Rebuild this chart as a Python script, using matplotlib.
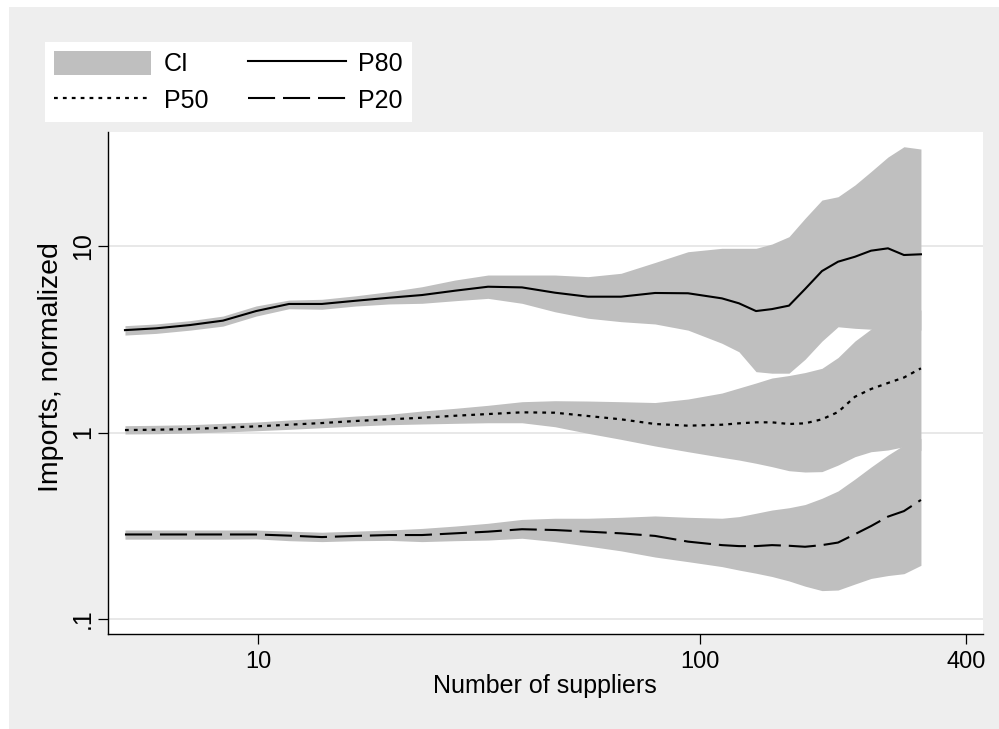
import matplotlib
matplotlib.use('Agg')
import matplotlib.pyplot as plt
from matplotlib.patches import Patch, Rectangle
from matplotlib.lines import Line2D
from matplotlib.ticker import FixedLocator, FixedFormatter, NullLocator

plt.rcParams['font.family'] = ['Liberation Sans', 'DejaVu Sans']

# number of suppliers (bin centres)
suppliers = [5.0, 5.88, 7.02, 8.33, 9.90, 11.75, 13.95, 16.66, 19.79, 23.50,
             27.91, 33.14, 39.56, 46.98, 55.79, 66.27, 79.11, 93.95, 112.1, 122.5,
             133.9, 145.5, 159.0, 172.9, 188.8, 205.3, 224.2, 243.8, 266.3, 289.4, 316.2]

# 80th percentile and its CI
p80_hi = [3.74, 3.82, 3.98, 4.21, 4.77, 5.13, 5.18, 5.41, 5.69, 6.05,
          6.57, 6.99, 6.99, 6.99, 6.85, 7.14, 8.16, 9.32, 9.72, 9.72,
          9.72, 10.25, 11.22, 14.08, 17.64, 18.38, 21.24, 25.08, 30.01, 34.07, 33.12]
p80 = [3.54, 3.62, 3.77, 3.98, 4.48, 4.89, 4.89, 5.09, 5.28, 5.46,
       5.76, 6.05, 6.00, 5.62, 5.35, 5.35, 5.60, 5.58, 5.24, 4.93,
       4.48, 4.59, 4.79, 5.88, 7.34, 8.24, 8.76, 9.44, 9.72, 8.95, 9.03]
p80_lo = [3.33, 3.40, 3.54, 3.72, 4.21, 4.61, 4.58, 4.77, 4.89, 4.93,
          5.09, 5.24, 4.93, 4.44, 4.10, 3.93, 3.82, 3.54, 3.01, 2.71,
          2.12, 2.08, 2.08, 2.47, 3.09, 3.69, 3.62, 3.58, 3.54, 3.54, 3.54]

# median
p50_hi = [1.088, 1.093, 1.101, 1.120, 1.138, 1.167, 1.191, 1.226, 1.252, 1.304,
          1.348, 1.399, 1.463, 1.481, 1.475, 1.463, 1.448, 1.512, 1.628, 1.732,
          1.843, 1.960, 2.021, 2.097, 2.209, 2.524, 3.094, 3.589, 4.01, 4.27, 4.54]
p50 = [1.031, 1.035, 1.044, 1.061, 1.079, 1.101, 1.124, 1.153, 1.177, 1.200,
       1.230, 1.256, 1.283, 1.277, 1.226, 1.177, 1.111, 1.088, 1.101, 1.120,
       1.134, 1.134, 1.111, 1.120, 1.177, 1.288, 1.555, 1.711, 1.843, 1.972, 2.209]
p50_lo = [0.982, 0.985, 0.994, 1.006, 1.022, 1.040, 1.061, 1.083, 1.101, 1.111,
          1.120, 1.128, 1.128, 1.074, 0.990, 0.919, 0.847, 0.789, 0.736, 0.712,
          0.684, 0.656, 0.624, 0.614, 0.617, 0.669, 0.742, 0.789, 0.806, 0.839, 0.80]

# 20th percentile
p20_hi = [.300, .300, .300, .300, .300, .296, .292, .296, .300, .306,
          .315, .326, .342, .347, .347, .351, .357, .351, .347, .354,
          .369, .384, .395, .411, .444, .486, .563, .653, .757, .857, .93]
p20 = [.284, .284, .284, .284, .284, .280, .275, .279, .282, .282,
       .288, .294, .303, .300, .294, .288, .279, .260, .249, .246,
       .246, .249, .247, .244, .249, .257, .285, .315, .354, .379, .435]
p20_lo = [.268, .268, .268, .268, .269, .263, .260, .263, .264, .260,
          .263, .265, .271, .260, .246, .232, .215, .203, .191, .183,
          .176, .169, .160, .150, .142, .143, .154, .165, .171, .175, .194]

xticks = [10, 100, 400]
yticks = [0.1, 1, 10]
yticklabels = ['.1', '1', '10']

W, H = 999, 729
fig = plt.figure(figsize=(W / 100, H / 100), dpi=100, facecolor='white')
fig.patches.append(Rectangle((9 / W, 0), 1 - 9 / W, 1 - 7 / H, transform=fig.transFigure,
                             facecolor='#eeeeee', edgecolor='none', zorder=-10))

ax = fig.add_axes([108 / W, (H - 634) / H, 875 / W, 502 / H])
ax.set_facecolor('white')
ax.set_xscale('log')
ax.set_yscale('log')
ax.set_xlim(4.577, 436.9)
ax.set_ylim(0.0831, 40.87)

band = '#bfbfbf'
for lo, hi in [(p80_lo, p80_hi), (p50_lo, p50_hi), (p20_lo, p20_hi)]:
    ax.fill_between(suppliers, lo, hi, color=band, lw=0, zorder=2)

ls50 = (0, (1.7, 2.3))
ls20 = (0, (13, 3.8))
ax.plot(suppliers, p80, color='black', lw=1.5, zorder=3)
ax.plot(suppliers, p50, color='black', lw=1.6, ls=ls50, zorder=3)
ax.plot(suppliers, p20, color='black', lw=1.5, ls=ls20, zorder=3)

for s in ['top', 'right']:
    ax.spines[s].set_visible(False)
for s in ['left', 'bottom']:
    ax.spines[s].set_linewidth(1.0)

ax.xaxis.set_major_locator(FixedLocator(xticks))
ax.xaxis.set_major_formatter(FixedFormatter([str(t) for t in xticks]))
ax.xaxis.set_minor_locator(NullLocator())
ax.yaxis.set_major_locator(FixedLocator(yticks))
ax.yaxis.set_major_formatter(FixedFormatter(yticklabels))
ax.yaxis.set_minor_locator(NullLocator())
ax.tick_params(axis='both', length=7, width=0.9)
ax.tick_params(axis='x', pad=5, labelsize=17)
ax.tick_params(axis='y', pad=2.5, labelsize=18)
for lab in ax.get_yticklabels():
    lab.set_rotation(90)
    lab.set_va('center')

ax.yaxis.grid(True, color='#e6e6e6', lw=1.3)
ax.set_axisbelow(True)

fig.text(545 / W, 1 - 686 / H, 'Number of suppliers', ha='center', va='center', fontsize=18)
fig.text(51 / W, 1 - 367 / H, 'Imports, normalized', ha='center', va='center',
         rotation=90, fontsize=20.5)

handles = [Patch(facecolor=band, edgecolor='none'),
           Line2D([], [], color='black', lw=1.6, ls=ls50),
           Line2D([], [], color='black', lw=1.5),
           Line2D([], [], color='black', lw=1.5, ls=ls20)]
labels = ['CI', 'P50', 'P80', 'P20']
leg = fig.legend(handles, labels, ncol=2, loc='upper left',
                 bbox_to_anchor=(45 / W, 1 - 42 / H), fontsize=18,
                 frameon=True, fancybox=False, framealpha=1,
                 handlelength=3.9, handleheight=1.1, handletextpad=0.5,
                 columnspacing=1.6, labelspacing=0.45, borderpad=0.35,
                 borderaxespad=0)
leg.get_frame().set_facecolor('white')
leg.get_frame().set_edgecolor('white')
leg.get_frame().set_linewidth(0)

fig.savefig('out.png', dpi=100, facecolor=fig.get_facecolor())
